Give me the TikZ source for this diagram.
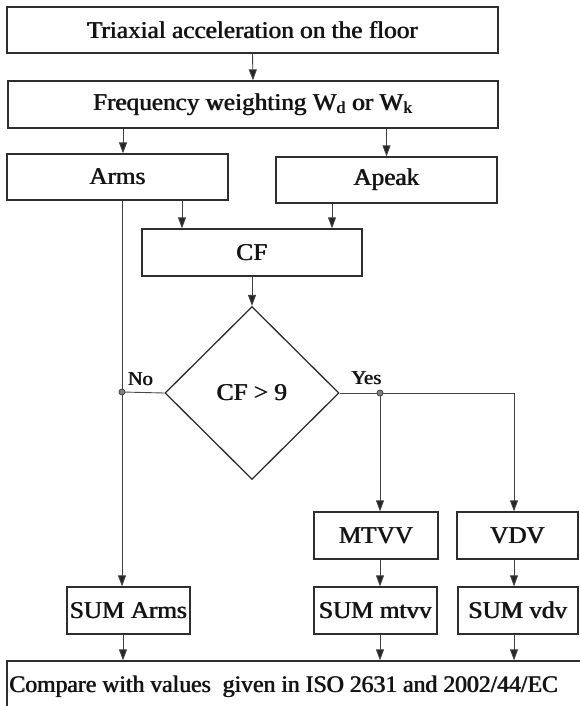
\documentclass[tikz,border=0pt]{standalone}
\usepackage{fontspec}
\setmainfont{Liberation Serif}
\newfontfamily\dfont{Liberation Serif}[FakeStretch=1.05]
\newcommand\hv[1]{\leavevmode\rlap{#1}\kern0.8pt#1}
\usetikzlibrary{arrows.meta,shapes.geometric}
\tikzset{
  bx/.style={draw=black!82, line width=1.3pt, inner sep=0pt, fill=white,
    font=\fontsize{24}{28}\dfont, text=black!92},
  arr/.style={-{Triangle[width=8pt,length=11pt,fill=black!85]}, line width=0.9pt, draw=black!75},
  ln/.style={line width=0.9pt, draw=black!72},
  dot/.style={circle, fill=black!50, draw=black!80, line width=0.5pt, inner sep=0pt, minimum size=6pt},
  lbl/.style={font=\fontsize{19.5}{23}\dfont, text=black!92, inner sep=0pt}
}
\begin{document}
\begin{tikzpicture}[x=1pt,y=-1pt]
\useasboundingbox (0,0) rectangle (579,706);
% boxes
\node[bx, minimum width=491pt, minimum height=46pt] (t1) at (252.5,30) {\hv{Triaxial acceleration on the floor}};
\node[bx, minimum width=490pt, minimum height=47pt] (t2) at (253,104.5) {\hv{Frequency weighting W\textsubscript{d} or W\textsubscript{k}}};
\node[bx, minimum width=221pt, minimum height=46pt] (arms) at (117.5,177) {\hv{Arms}};
\node[bx, minimum width=221pt, minimum height=46pt] (apk) at (386.5,180) {\hv{Apeak}};
\node[bx, minimum width=220pt, minimum height=47pt] (cf) at (252,252.5) {\hv{CF}};
\node[bx, shape=diamond, aspect=1, minimum width=174pt, minimum height=173pt] (dia) at (252,393) {\hv{CF > 9}};
\node[bx, minimum width=124pt, minimum height=47pt] (mt) at (376,535.5) {\hv{MTVV}};
\node[bx, minimum width=121pt, minimum height=47pt] (vd) at (517.5,535.5) {\hv{VDV}};
\node[bx, minimum width=123pt, minimum height=47pt] (sm) at (375.5,610.5) {\hv{SUM mtvv}};
\node[bx, minimum width=120pt, minimum height=47pt] (sv) at (518,610.5) {\hv{SUM vdv}};
\node[bx, minimum width=123pt, minimum height=47pt] (sa) at (128.5,610.5) {\hv{SUM Arms}};
\node[bx, minimum width=575pt, minimum height=48pt] (cmp) at (294.5,685) {};
\node[font=\fontsize{23.7}{27}\selectfont, text=black!92, inner sep=0pt, anchor=west] (cmpt) at (9,687) {\hv{Compare with values\ \ given in ISO 2631 and 2002/44/EC}};
% helper x positions
\coordinate (xa) at (123,0);
\coordinate (xal) at (122,0);
\coordinate (xc1) at (182,0);
\coordinate (xc2) at (332,0);
\coordinate (xm) at (380,0);
\coordinate (xv) at (514,0);
% connectors
\draw[arr] (t1.south) -- (t2.north);
\draw[arr] (t2.south -| xa) -- (arms.north -| xa);
\draw[arr] (t2.south -| apk) -- (apk.north);
\draw[arr] (arms.south -| xc1) -- (cf.north -| xc1);
\draw[arr] (apk.south -| xc2) -- (cf.north -| xc2);
\draw[arr] (cf.south) -- (dia.north);
\draw[arr] (arms.south -| xal) -- (sa.north -| xal);
\node[dot] (nd) at (122,392) {};
\node[dot] (yd) at (380,393) {};
\draw[ln] (nd) -- (dia.west);
\draw[ln] (dia.east) -- (yd);
\draw[arr] (yd) -- (mt.north -| xm);
\draw[arr] (yd) -| (vd.north -| xv);
\draw[arr] (mt.south -| xm) -- (sm.north -| xm);
\draw[arr] (vd.south -| xv) -- (sv.north -| xv);
\draw[arr] (sa.south -| xa) -- (cmp.north -| xa);
\draw[arr] (sm.south -| xm) -- (cmp.north -| xm);
\draw[arr] (sv.south -| xv) -- (cmp.north -| xv);
\node[dot] at (nd) {};
\node[dot] at (yd) {};
% labels
\node[lbl] (lno) at (140.5,379) {\hv{No}};
\node[lbl] (lyes) at (366.5,378) {\hv{Yes}};
\end{tikzpicture}
\end{document}
